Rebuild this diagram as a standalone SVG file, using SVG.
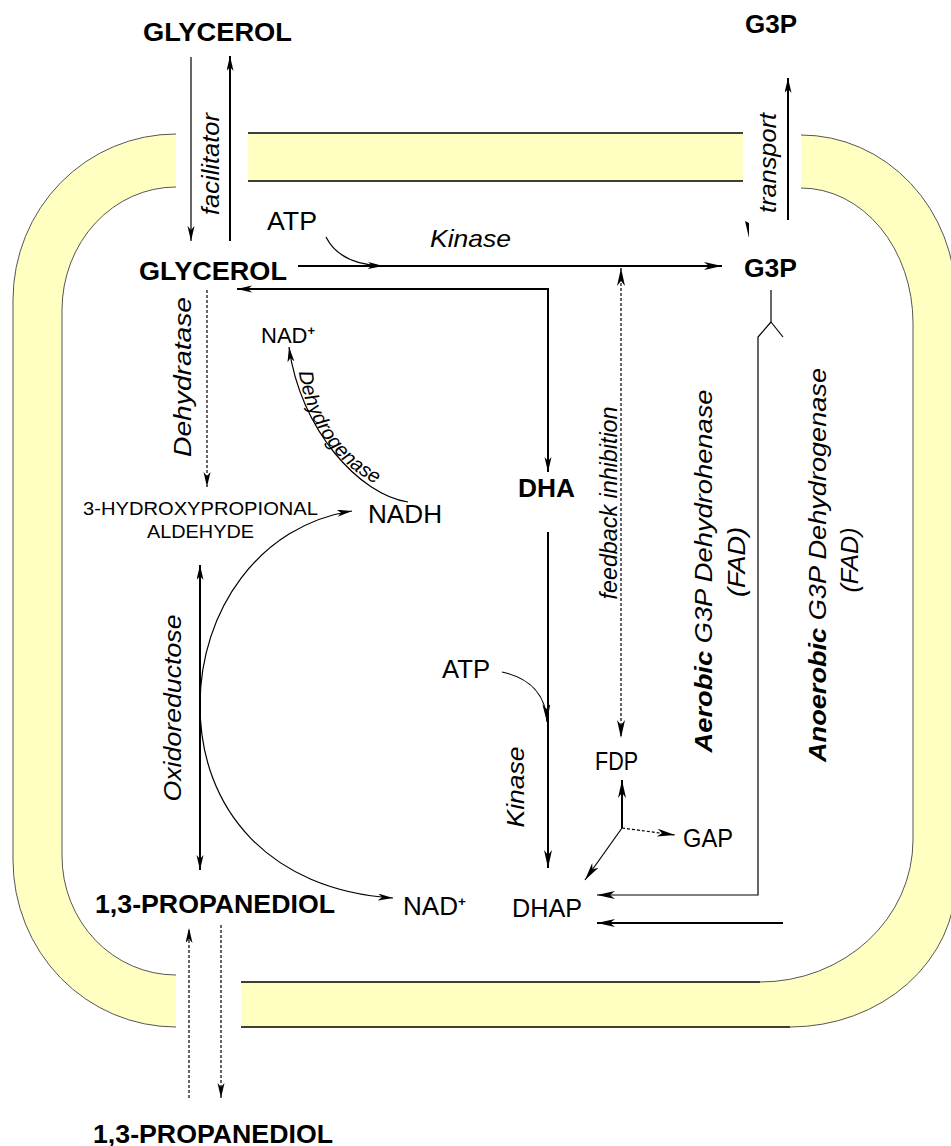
<svg xmlns="http://www.w3.org/2000/svg" width="951" height="1146" viewBox="0 0 951 1146">
<style>
text{font-family:"Liberation Sans",Arial,sans-serif;fill:#000}
.b{font-weight:bold;font-size:25px}
.r{font-size:25px}
.i{font-style:italic;font-size:24px}
.sup{font-size:13px;font-weight:bold}
.mem{fill:#FFFFC2;stroke:none}
.edge{fill:none;stroke:#000;stroke-width:1.6}
.cedge{fill:none;stroke:#555;stroke-width:1}
.ln{fill:none;stroke:#000;stroke-width:2}
.tn{fill:none;stroke:#000;stroke-width:1.2}
.ds{fill:none;stroke:#000;stroke-width:1.2;stroke-dasharray:3,2}
</style>
<defs>
<marker id="ah" markerUnits="userSpaceOnUse" markerWidth="20" markerHeight="10" refX="18" refY="4" orient="auto-start-reverse">
<path d="M0,0 L18,4 L0,8 L5,4 Z" fill="#000"/>
</marker>
<marker id="as" markerUnits="userSpaceOnUse" markerWidth="16" markerHeight="8" refX="15" refY="3.5" orient="auto-start-reverse">
<path d="M0,0 L15,3.5 L0,7 L4,3.5 Z" fill="#000"/>
</marker>
<path id="dhp" d="M299,372 C 308,440 358,484 400,492"/>
</defs>

<g id="membrane">
<path class="mem" d="M176,134 A163,166 0 0,0 13,300 V860 A163,167 0 0,0 176,1027 V975 A114,119 0 0,1 62,856 V310 A114,123 0 0,1 176,187 Z"/>
<path class="cedge" d="M176,134 A163,166 0 0,0 13,300 V860 A163,167 0 0,0 176,1027"/>
<path class="cedge" d="M176,975 A114,119 0 0,1 62,856 V310 A114,123 0 0,1 176,187"/>
<rect class="mem" x="248" y="133" width="495" height="48"/>
<path class="edge" d="M248,133 H743 M248,181 H743"/>
<path class="mem" d="M241,1027 H790 A166,147 0 0,0 956,880 V300 A155,165 0 0,0 801,135 V188 A112,135 0 0,1 913,323 V840 A153,142 0 0,1 760,982 H241 Z"/>
<path class="edge" d="M241,1027 H790 M241,982 H760"/>
<path class="cedge" d="M790,1027 A166,147 0 0,0 956,880 V300 A155,165 0 0,0 801,135"/>
<path class="cedge" d="M801,188 A112,135 0 0,1 913,323 V840 A153,142 0 0,1 760,982"/>
</g>

<g id="connectors">
<path class="tn" d="M191,57 V241" marker-end="url(#as)"/>
<path class="ln" d="M230,241 V56" marker-end="url(#as)"/>
<path class="tn" d="M326,237 C 335,255 355,265 383,266" marker-end="url(#as)"/>
<path class="ln" d="M298,266 H722" marker-end="url(#ah)"/>
<path class="ln" d="M788,220 V78" marker-end="url(#as)"/>
<polygon points="745,221 749,223 749,238" fill="#000"/>
<path class="ds" d="M207,290 V487" marker-end="url(#as)"/>
<path class="ln" d="M548,472 V289 H237" marker-start="url(#as)" marker-end="url(#as)"/>
<path class="tn" d="M408,502 C 360,495 300,430 289,347" marker-end="url(#as)"/>
<path class="tn" d="M352,511 C 260,525 200,610 200,705 C 200,810 270,890 393,898" marker-start="url(#as)" marker-end="url(#as)"/>
<path class="ln" d="M200,565 V870" marker-start="url(#as)" marker-end="url(#as)"/>
<path class="ds" d="M189,1098 V928" marker-end="url(#as)"/>
<path class="ds" d="M221,925 V1098" marker-end="url(#as)"/>
<path class="ln" d="M548,532 V868" marker-end="url(#ah)"/>
<path class="tn" d="M502,672 C 530,678 546,695 547,722" marker-end="url(#ah)"/>
<path class="ds" d="M621,268 V738" marker-start="url(#ah)" marker-end="url(#ah)"/>
<path class="ln" d="M622,828 V780" marker-end="url(#ah)"/>
<path class="ds" d="M622,828 L675,835" marker-end="url(#ah)"/>
<path class="tn" d="M622,828 L585,880" marker-end="url(#ah)"/>
<path class="tn" d="M771,290 V322 L758,337 V895 H597" marker-end="url(#ah)"/>
<path class="tn" d="M771,322 L783,337"/>
<path class="ln" d="M783,923 H597" marker-end="url(#ah)"/>
</g>

<g id="glycerol-out"><text class="b" x="143" y="41" textLength="149" lengthAdjust="spacingAndGlyphs">GLYCEROL</text></g>
<g id="g3p-out"><text class="b" x="745" y="33" textLength="52" lengthAdjust="spacingAndGlyphs">G3P</text></g>
<g id="facilitator"><text class="i" transform="translate(219,164) rotate(-90)" text-anchor="middle" textLength="102" lengthAdjust="spacingAndGlyphs">facilitator</text></g>
<g id="transport"><text class="i" transform="translate(776,163) rotate(-90)" text-anchor="middle" textLength="100" lengthAdjust="spacingAndGlyphs">transport</text></g>
<g id="atp1"><text class="r" x="267" y="230" textLength="50" lengthAdjust="spacingAndGlyphs">ATP</text></g>
<g id="kinase1"><text class="i" x="430" y="247" textLength="81" lengthAdjust="spacingAndGlyphs">Kinase</text></g>
<g id="glycerol-in"><text class="b" x="139" y="280" textLength="148" lengthAdjust="spacingAndGlyphs">GLYCEROL</text></g>
<g id="g3p-in"><text class="b" x="744" y="277" textLength="53" lengthAdjust="spacingAndGlyphs">G3P</text></g>
<g id="dehydratase"><text class="i" transform="translate(191,377) rotate(-90)" text-anchor="middle" textLength="160" lengthAdjust="spacingAndGlyphs">Dehydratase</text></g>
<g id="nad-top"><text style="font-size:22px" x="261" y="343">NAD<tspan class="sup" dy="-8">+</tspan></text></g>
<g id="dehydrogenase"><text style="font-style:italic;font-size:20px"><textPath href="#dhp">Dehydrogenase</textPath></text></g>
<g id="nadh"><text class="r" x="368" y="523" textLength="74" lengthAdjust="spacingAndGlyphs">NADH</text></g>
<g id="hpa"><text style="font-size:19px" x="83" y="515" textLength="235" lengthAdjust="spacingAndGlyphs">3-HYDROXYPROPIONAL</text><text style="font-size:19px" x="147" y="538" textLength="107" lengthAdjust="spacingAndGlyphs">ALDEHYDE</text></g>
<g id="dha"><text class="b" x="518" y="497" textLength="57" lengthAdjust="spacingAndGlyphs">DHA</text></g>
<g id="feedback"><text class="i" transform="translate(617,503) rotate(-90)" text-anchor="middle" textLength="193" lengthAdjust="spacingAndGlyphs">feedback inhibition</text></g>
<g id="aerobic"><text class="i" transform="translate(712,571) rotate(-90)" text-anchor="middle" textLength="363" lengthAdjust="spacingAndGlyphs"><tspan font-weight="bold">Aerobic</tspan> G3P Dehydrohenase</text><text class="i" transform="translate(745,562) rotate(-90)" text-anchor="middle" textLength="70" lengthAdjust="spacingAndGlyphs">(FAD)</text></g>
<g id="anaerobic"><text class="i" transform="translate(826,565) rotate(-90)" text-anchor="middle" textLength="394" lengthAdjust="spacingAndGlyphs"><tspan font-weight="bold">Anoerobic</tspan> G3P Dehydrogenase</text><text class="i" transform="translate(858,560) rotate(-90)" text-anchor="middle" textLength="65" lengthAdjust="spacingAndGlyphs">(FAD)</text></g>
<g id="oxidoreductose"><text class="i" transform="translate(181,708) rotate(-90)" text-anchor="middle" textLength="187" lengthAdjust="spacingAndGlyphs">Oxidoreductose</text></g>
<g id="atp2"><text class="r" x="442" y="678" textLength="48" lengthAdjust="spacingAndGlyphs">ATP</text></g>
<g id="kinase2"><text class="i" transform="translate(524,787) rotate(-90)" text-anchor="middle" textLength="81" lengthAdjust="spacingAndGlyphs">Kinase</text></g>
<g id="fdp"><text class="r" x="595" y="770" textLength="43" lengthAdjust="spacingAndGlyphs">FDP</text></g>
<g id="gap"><text class="r" x="683" y="847" textLength="50" lengthAdjust="spacingAndGlyphs">GAP</text></g>
<g id="pdo-in"><text class="b" x="95" y="913" textLength="240" lengthAdjust="spacingAndGlyphs">1,3-PROPANEDIOL</text></g>
<g id="nad-bottom"><text class="r" x="403" y="915" textLength="63" lengthAdjust="spacingAndGlyphs">NAD<tspan class="sup" dy="-9">+</tspan></text></g>
<g id="dhap"><text class="r" x="512" y="917" textLength="70" lengthAdjust="spacingAndGlyphs">DHAP</text></g>
<g id="pdo-out"><text class="b" x="93" y="1143" textLength="240" lengthAdjust="spacingAndGlyphs">1,3-PROPANEDIOL</text></g>
</svg>
